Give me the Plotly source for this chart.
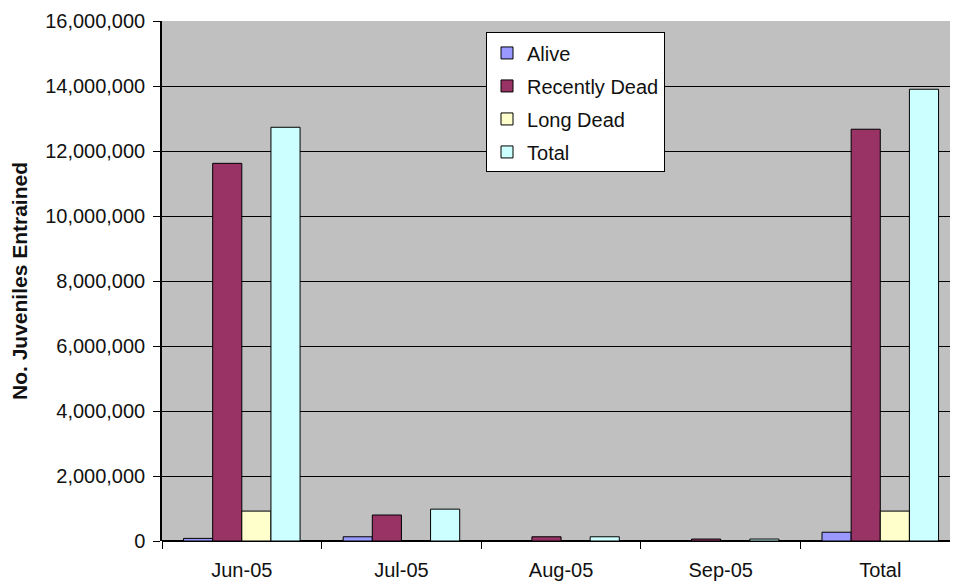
import plotly.graph_objects as go

categories = ["Jun-05", "Jul-05", "Aug-05", "Sep-05", "Total"]
alive = [80000, 130000, 0, 0, 270000]
recently_dead = [11620000, 800000, 130000, 60000, 12670000]
long_dead = [920000, 0, 0, 0, 920000]
total = [12730000, 980000, 130000, 60000, 13900000]

series = [
    ("Alive", alive, "#9999FF"),
    ("Recently Dead", recently_dead, "#993366"),
    ("Long Dead", long_dead, "#FFFFCC"),
    ("Total", total, "#CCFFFF"),
]

fig = go.Figure()
for name, vals, color in series:
    fig.add_trace(go.Bar(
        x=categories, y=vals, name=name, legendgroup=name,
        marker=dict(color=color, line=dict(color="black", width=1)),
    ))

font = "Liberation Sans, Arial, sans-serif"
fig.update_layout(
    width=958, height=585,
    margin=dict(l=154, r=0, t=13, b=52),
    paper_bgcolor="white",
    plot_bgcolor="#C0C0C0",
    barmode="group",
    bargap=0.27,
    bargroupgap=0,
    font=dict(family=font, size=20, color="#111111"),
    showlegend=True,
    legend=dict(
        x=0.403, y=0.978, xanchor="left", yanchor="top",
        bgcolor="white", bordercolor="black", borderwidth=1,
        font=dict(size=20, family=font),
        tracegroupgap=4,
        traceorder="grouped",
    ),
    xaxis=dict(
        type="category",
        range=[-0.5, 4.537],
        automargin=False,
        showgrid=False,
        ticks="outside", tickson="boundaries", ticklen=7,
        tickcolor="black", tickwidth=1,
        showline=False,
        ticklabelstandoff=15,
        tickfont=dict(size=20, family=font),
    ),
    yaxis=dict(
        range=[0, 16000000],
        dtick=2000000,
        tickformat=",d",
        automargin=False,
        showgrid=True, gridcolor="black", gridwidth=1,
        zeroline=True, zerolinecolor="black", zerolinewidth=1.5,
        showline=True, linecolor="black", linewidth=1.5,
        ticks="outside", ticklen=7, tickcolor="black",
        ticklabelstandoff=4,
        tickfont=dict(size=20, family=font),
        title=dict(text="<b>No. Juveniles Entrained</b>", font=dict(size=21, family=font), standoff=20),
    ),
)

fig.write_html("out.html")
